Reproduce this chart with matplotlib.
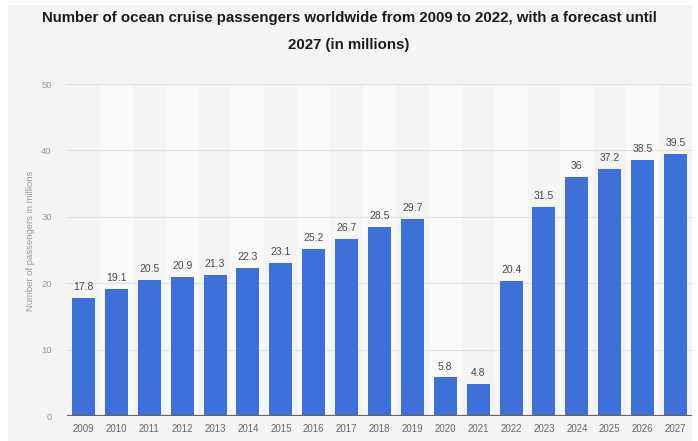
import matplotlib.pyplot as plt
from matplotlib.patches import Rectangle

years = ['2009', '2010', '2011', '2012', '2013', '2014', '2015', '2016', '2017',
         '2018', '2019', '2020', '2021', '2022', '2023', '2024', '2025', '2026', '2027']
passengers = [17.8, 19.1, 20.5, 20.9, 21.3, 22.3, 23.1, 25.2, 26.7,
              28.5, 29.7, 5.8, 4.8, 20.4, 31.5, 36, 37.2, 38.5, 39.5]
value_labels = ['17.8', '19.1', '20.5', '20.9', '21.3', '22.3', '23.1', '25.2', '26.7',
                '28.5', '29.7', '5.8', '4.8', '20.4', '31.5', '36', '37.2', '38.5', '39.5']
y_ticks = [0, 10, 20, 30, 40, 50]

plt.rcParams['font.family'] = ['Liberation Sans', 'DejaVu Sans']

fig = plt.figure(figsize=(6.98, 4.41), dpi=100)
fig.patch.set_facecolor('white')
# grey panel behind everything, leaving a thin white margin
fig.patches.append(Rectangle((8 / 698, 0), 684 / 698, 436 / 441,
                             transform=fig.transFigure, facecolor='#f4f4f4',
                             edgecolor='none', zorder=-10))

ax = fig.add_axes([67 / 698, 25 / 441, 625 / 698, 332 / 441])
ax.patch.set_alpha(0)

x = range(len(years))
# lighter stripes on every second column
for i in x:
    if i % 2 == 1:
        ax.axvspan(i - 0.5, i + 0.5, ymin=0, ymax=1, color='#f9f9f9', zorder=0, lw=0)

ax.bar(x, passengers, width=0.7, color='#3d70d8', zorder=3)
for i, (v, s) in enumerate(zip(passengers, value_labels)):
    ax.text(i, v + 0.9, s, ha='center', va='bottom', fontsize=7.5, color='#4a4a4a', zorder=4)

ax.set_xlim(-0.5, len(years) - 0.5)
ax.set_ylim(0, 50)
ax.set_yticks(y_ticks)
ax.set_xticks(list(x))
ax.set_xticklabels(years)
ax.tick_params(axis='both', length=0, labelsize=7, colors='#666666')
ax.tick_params(axis='y', pad=11, labelcolor='#999999', labelsize=6.8)
ax.tick_params(axis='x', pad=6)
ax.grid(axis='y', color='#e2e2e2', linewidth=0.8, zorder=1)
ax.axhline(0, color='#666666', linewidth=1.6, zorder=5)
for side in ['top', 'right', 'left', 'bottom']:
    ax.spines[side].set_visible(False)

ax.set_ylabel('Number of passengers in millions', fontsize=6.8, color='#999999')
ax.yaxis.set_label_coords(-32 / 625, (416 - 241) / 332)

fig.text(0.5, 1 - 18 / 441, 'Number of ocean cruise passengers worldwide from 2009 to 2022, with a forecast until',
         ha='center', va='center', fontsize=10.8, fontweight='bold', color='#1a1a1a')
fig.text(0.5, 1 - 45 / 441, '2027 (in millions)',
         ha='center', va='center', fontsize=10.8, fontweight='bold', color='#1a1a1a')

fig.savefig('out.png', dpi=100, facecolor=fig.get_facecolor())
